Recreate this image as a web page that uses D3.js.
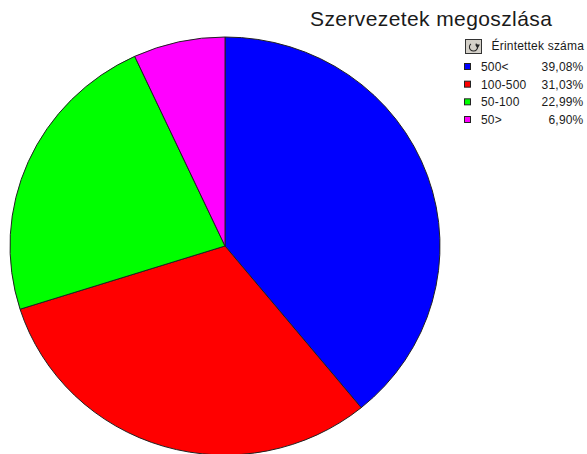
<!DOCTYPE html>
<html>
<head>
<meta charset="utf-8">
<script src="https://cdn.jsdelivr.net/npm/d3@7"></script>
<style>
  html, body { margin: 0; padding: 0; background: #fff; }
  svg { display: block; }
  text { font-family: "Liberation Sans", Arial, sans-serif; fill: #1a1a1a; }
</style>
</head>
<body>
<div id="chart"></div>
<script>
// Chart data
const categories = ["500<", "100-500", "50-100", "50>"];
const shares = [39.08, 31.03, 22.99, 6.90];
const shareLabels = ["39,08%", "31,03%", "22,99%", "6,90%"];
const colors = ["#0000ff", "#ff0000", "#00ff00", "#ff00ff"];
const chartTitle = "Szervezetek megoszlása";
const legendTitle = "Érintettek száma";

const width = 587, height = 454;
// The pie in the original is a little squashed, so rx and ry differ
const cx = 225, cy = 246, rx = 215, ry = 209;

const svg = d3.select("#chart")
  .append("svg")
  .attr("width", width)
  .attr("height", height)
  .attr("viewBox", [0, 0, width, height]);

// Pie starts at 12 o'clock and goes clockwise in data order
const pie = d3.pie().sort(null).value(d => d);
const arc = d3.arc().innerRadius(0).outerRadius(rx);

svg.append("g")
  .attr("transform", `translate(${cx},${cy}) scale(1,${ry / rx})`)
  .selectAll("path")
  .data(pie(shares))
  .join("path")
  .attr("d", arc)
  .attr("fill", (d, i) => colors[i])
  .attr("stroke", "#222")
  .attr("stroke-width", 1)
  .attr("vector-effect", "non-scaling-stroke");

// Title
svg.append("text")
  .attr("x", 310)
  .attr("y", 25.5)
  .attr("font-size", 21)
  .attr("letter-spacing", 0.4)
  .text(chartTitle);

// Legend header with the small rotate button
const button = svg.append("g").attr("transform", "translate(465,39)");
button.append("rect")
  .attr("x", 0.5).attr("y", 0.5)
  .attr("width", 16).attr("height", 14)
  .attr("fill", "#d4d0c8")
  .attr("stroke", "#333");
button.append("path")
  .attr("d", d3.arc()({ innerRadius: 3.6, outerRadius: 4.6, startAngle: 0.6, endAngle: 5.6 }))
  .attr("transform", "translate(8.5,8)")
  .attr("fill", "#222");
button.append("path")
  .attr("d", d3.symbol(d3.symbolTriangle, 10)())
  .attr("transform", "translate(12.5,7) rotate(180)")
  .attr("fill", "#222");

svg.append("text")
  .attr("x", 491.5)
  .attr("y", 50)
  .attr("font-size", 12)
  .attr("letter-spacing", 0.2)
  .text(legendTitle);

// Legend rows
const rowY = d3.scalePoint().domain(categories).range([67, 120]);

const rows = svg.append("g")
  .selectAll("g")
  .data(categories)
  .join("g")
  .attr("transform", d => `translate(0,${rowY(d)})`);

rows.append("rect")
  .attr("x", 464.5).attr("y", -3.5)
  .attr("width", 6).attr("height", 6)
  .attr("fill", (d, i) => colors[i])
  .attr("stroke", "#222")
  .attr("stroke-width", 1);

rows.append("text")
  .attr("x", 481)
  .attr("y", 4)
  .attr("font-size", 12)
  .attr("letter-spacing", 0.2)
  .text(d => d);

rows.append("text")
  .attr("x", 583.5)
  .attr("y", 4)
  .attr("text-anchor", "end")
  .attr("font-size", 12)
  .attr("letter-spacing", 0.2)
  .text((d, i) => shareLabels[i]);
</script>
</body>
</html>
